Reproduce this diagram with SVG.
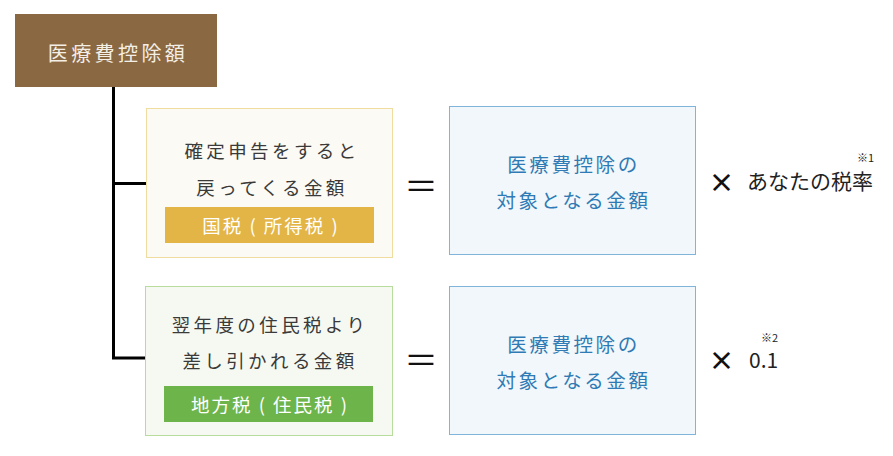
<svg xmlns="http://www.w3.org/2000/svg" width="893" height="456" viewBox="0 0 893 456">
<style>
text{font-family:"Noto Sans CJK JP","Noto Sans",sans-serif;dominant-baseline:central;text-anchor:middle}
.dark{fill:#3a3a3a;font-size:18.5px;letter-spacing:3.4px}
.tag{fill:#ffffff;font-size:18.5px;letter-spacing:2px}
.blue{fill:#2f7bb5;font-size:19.5px;letter-spacing:2.6px}
.op{fill:#111;font-size:34px}
.times{fill:#111;font-size:26px;font-weight:bold}
.res{fill:#222;font-size:21px;text-anchor:start}
.note{fill:#222;font-size:11px;text-anchor:start}
.line{stroke:#000;stroke-width:3;fill:none}
</style>
<g id="connectors">
<path class="line" d="M113.5 87V358M112 183.5H147M112 358H146"/>
</g>
<g id="title">
<rect x="15" y="14" width="202" height="73" fill="#8a6842"/>
<text x="118" y="52" fill="#f4efe6" font-size="20" letter-spacing="3.4">医療費控除額</text>
</g>
<g id="kokuzei">
<rect x="146.5" y="108.5" width="246" height="149" fill="#fcfaf4" stroke="#f1dc9f" stroke-width="1"/>
<text class="dark" x="272" y="150">確定申告をすると</text>
<text class="dark" x="272" y="187">戻ってくる金額</text>
<rect x="165" y="207" width="209" height="36" fill="#e3b546"/>
<text class="tag" x="271" y="225">国税 ( 所得税 )</text>
</g>
<g id="juminzei">
<rect x="145.5" y="286.5" width="247" height="149" fill="#f6f9f2" stroke="#b7dc9c" stroke-width="1"/>
<text class="dark" x="270" y="324">翌年度の住民税より</text>
<text class="dark" x="270" y="360">差し引かれる金額</text>
<rect x="164" y="386" width="209" height="36" fill="#6db44b"/>
<text class="tag" x="270" y="404">地方税 ( 住民税 )</text>
</g>
<g id="eq1">
<text class="op" x="421" y="184">＝</text>
</g>
<g id="target1">
<rect x="449.5" y="106.5" width="246" height="148" fill="#f2f7fb" stroke="#80b4d8" stroke-width="1"/>
<text class="blue" x="573.5" y="163">医療費控除の</text>
<text class="blue" x="573.5" y="199">対象となる金額</text>
</g>
<g id="eq2">
<text class="op" x="421" y="358">＝</text>
</g>
<g id="target2">
<rect x="449.5" y="286.5" width="246" height="148" fill="#f2f7fb" stroke="#80b4d8" stroke-width="1"/>
<text class="blue" x="573.5" y="343">医療費控除の</text>
<text class="blue" x="573.5" y="379">対象となる金額</text>
</g>
<g id="rate1">
<text class="times" x="721.5" y="180">×</text>
<text class="res" x="747" y="180">あなたの税率</text>
<text class="note" x="857" y="157">※1</text>
</g>
<g id="rate2">
<text class="times" x="721.5" y="358">×</text>
<text class="res" x="749" y="359">0.1</text>
<text class="note" x="761" y="337">※2</text>
</g>
</svg>
